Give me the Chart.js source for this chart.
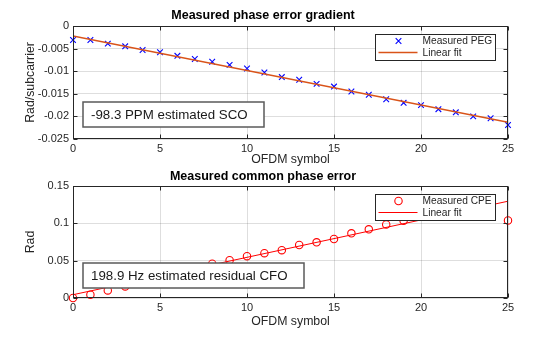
<!DOCTYPE html>
<html>
<head>
<meta charset="utf-8">
<script src="https://cdn.jsdelivr.net/npm/chart.js@4.4.1/dist/chart.umd.min.js"></script>
<style>
  body { margin: 0; background: #fff; }
  #wrap { position: relative; width: 560px; height: 337px; }
  canvas { position: absolute; left: 0; }
</style>
</head>
<body>
<div id="wrap">
  <canvas id="pegChart" width="560" height="168" style="top:0"></canvas>
  <canvas id="cpeChart" width="560" height="169" style="top:168px"></canvas>
</div>
<script>
// OFDM symbol index (x axis)
const symbols = [0, 1, 2, 3, 4, 5, 6, 7, 8, 9, 10, 11, 12, 13, 14, 15, 16, 17, 18, 19, 20, 21, 22, 23, 24, 25];

// top plot: phase error gradient (rad/subcarrier)
const pegValues = [-0.0031, -0.0031, -0.0039, -0.0045, -0.0053, -0.0058, -0.0066, -0.0073, -0.0079, -0.0086,
  -0.0094, -0.0103, -0.0113, -0.0119, -0.0128, -0.0134, -0.0145, -0.0152, -0.0162, -0.0170,
  -0.0175, -0.0184, -0.0191, -0.0200, -0.0204, -0.0219];
const pegFitX = [0, 25];
const pegFitY = [-0.0022, -0.0213];
const pegTicksY = [0, -0.005, -0.01, -0.015, -0.02, -0.025];
const pegNote = '-98.3 PPM estimated SCO';

// bottom plot: common phase error (rad)
const cpeValues = [0.0000, 0.0044, 0.0102, 0.0155, 0.0210, 0.0270, 0.0330, 0.0400, 0.0460, 0.0506,
  0.0560, 0.0600, 0.0640, 0.0710, 0.0746, 0.0790, 0.0866, 0.0920, 0.0985, 0.1034,
  0.1120, 0.1150, 0.1190, 0.1220, 0.1250, 0.1039];
const cpeFitX = [0, 25];
const cpeFitY = [0.0044, 0.1296];
const cpeTicksY = [0, 0.05, 0.1, 0.15];
const cpeNote = '198.9 Hz estimated residual CFO';

const xTicks = [0, 5, 10, 15, 20, 25];
const FONT = '"Liberation Sans", Arial, Helvetica, sans-serif';
const AX = '#262626';

const toPts = (xs, ys) => xs.map((x, i) => ({ x: x, y: ys[i] }));

function drawMarker(ctx, style, x, y, r, color) {
  ctx.strokeStyle = color;
  ctx.lineWidth = 1.1;
  ctx.beginPath();
  if (style === 'crossRot') {
    const d = r * Math.SQRT1_2;
    ctx.moveTo(x - d, y - d); ctx.lineTo(x + d, y + d);
    ctx.moveTo(x - d, y + d); ctx.lineTo(x + d, y - d);
  } else {
    ctx.arc(x, y, r, 0, Math.PI * 2);
  }
  ctx.stroke();
}

// matlab-like box, inward ticks, text note and legend inside the axes
const axesDecor = {
  id: 'axesDecor',
  afterDraw(chart, args, opts) {
    const { ctx, chartArea: a, scales } = chart;
    const L = Math.round(a.left) + 0.5, R = Math.round(a.right) - 0.5;
    const T = Math.round(a.top) + 0.5, B = Math.round(a.bottom) - 0.5;
    ctx.save();
    ctx.strokeStyle = AX;
    ctx.lineWidth = 1;
    ctx.strokeRect(L, T, R - L, B - T);
    ctx.beginPath();
    scales.x.ticks.forEach(t => {
      const px = Math.round(scales.x.getPixelForValue(t.value)) + 0.5;
      ctx.moveTo(px, B); ctx.lineTo(px, B - 4);
      ctx.moveTo(px, T); ctx.lineTo(px, T + 4);
    });
    scales.y.ticks.forEach(t => {
      const py = Math.round(scales.y.getPixelForValue(t.value)) + 0.5;
      ctx.moveTo(L, py); ctx.lineTo(L + 4, py);
      ctx.moveTo(R, py); ctx.lineTo(R - 4, py);
    });
    ctx.stroke();

    // annotation text box
    const nx = a.left + 10, nh = 25, ny = a.bottom - opts.noteBottom - nh;
    ctx.fillStyle = '#fff';
    ctx.fillRect(nx, ny, opts.noteWidth, nh);
    ctx.strokeStyle = '#5a5a5a';
    ctx.lineWidth = 1.5;
    ctx.strokeRect(nx, ny, opts.noteWidth, nh);
    ctx.fillStyle = '#1a1a1a';
    ctx.font = '13.3px ' + FONT;
    ctx.textBaseline = 'middle';
    ctx.textAlign = 'left';
    ctx.fillText(opts.note, nx + 8, ny + nh / 2 + 1);

    // legend
    const lw = 120, lh = 26, lx = Math.round(a.right - 13 - lw) + 0.5, ly = Math.round(a.top + 8) + 0.5;
    ctx.fillStyle = '#fff';
    ctx.fillRect(lx, ly, lw, lh);
    ctx.strokeStyle = AX;
    ctx.lineWidth = 1;
    ctx.strokeRect(lx, ly, lw, lh);
    ctx.font = '10.2px ' + FONT;
    opts.items.forEach((it, i) => {
      const ry = ly + 6.5 + i * 11.5;
      if (it.line) {
        ctx.strokeStyle = it.color;
        ctx.lineWidth = it.width;
        ctx.beginPath();
        ctx.moveTo(lx + 3, ry); ctx.lineTo(lx + 42, ry);
        ctx.stroke();
      } else {
        drawMarker(ctx, it.style, lx + 23, ry, it.r, it.color);
      }
      ctx.fillStyle = AX;
      ctx.fillText(it.label, lx + 47, ry + 0.5);
    });
    ctx.restore();
  }
};

function makeChart(id, o) {
  return new Chart(document.getElementById(id), {
    type: 'scatter',
    data: {
      datasets: [{
        label: o.markLabel,
        data: toPts(symbols, o.values),
        showLine: false,
        pointStyle: o.pointStyle,
        pointRadius: o.pointRadius,
        pointHoverRadius: o.pointRadius,
        borderColor: o.markColor,
        backgroundColor: 'rgba(0,0,0,0)',
        pointBorderWidth: 1.1,
        clip: false,
        order: 2
      }, {
        label: 'Linear fit',
        data: toPts(o.fitX, o.fitY),
        showLine: true,
        borderColor: o.fitColor,
        backgroundColor: o.fitColor,
        borderWidth: o.fitWidth,
        pointRadius: 0,
        order: 1
      }]
    },
    options: {
      responsive: false,
      animation: false,
      layout: { padding: { left: 18, right: 52, top: o.padTop, bottom: 0 } },
      plugins: {
        legend: { display: false },
        tooltip: { enabled: false },
        title: {
          display: true, text: o.title, color: '#000',
          font: { family: FONT, size: 12.5, weight: 'bold' },
          padding: { top: 0, bottom: o.titleGap }
        },
        axesDecor: {
          note: o.note, noteWidth: o.noteWidth, noteBottom: o.noteBottom,
          items: [
            { label: o.markLabel, style: o.pointStyle, r: o.pointRadius, color: o.markColor },
            { label: 'Linear fit', line: true, color: o.fitColor, width: o.fitWidth }
          ]
        }
      },
      scales: {
        x: {
          type: 'linear', min: 0, max: 25,
          afterBuildTicks: s => { s.ticks = xTicks.map(v => ({ value: v })); },
          afterFit: s => { s.height = o.xHeight; },
          grid: { color: 'rgba(0,0,0,0.13)', drawTicks: false },
          border: { display: false },
          ticks: { color: AX, font: { family: FONT, size: 11 }, padding: 3 },
          title: { display: true, text: 'OFDM symbol', color: AX,
            font: { family: FONT, size: 12.3 }, padding: { top: 0, bottom: o.xTitleGap } }
        },
        y: {
          min: o.yMin, max: o.yMax,
          afterBuildTicks: s => { s.ticks = o.yTicks.map(v => ({ value: v })); },
          afterFit: s => { s.width = 55; },
          grid: { color: 'rgba(0,0,0,0.13)', drawTicks: false },
          border: { display: false },
          ticks: { color: AX, font: { family: FONT, size: 11 }, padding: 4,
            callback: v => String(+v.toFixed(4)) },
          title: { display: true, text: o.yLabel, color: AX,
            font: { family: FONT, size: 12.3 }, padding: { top: 5, bottom: 0 } }
        }
      }
    },
    plugins: [axesDecor]
  });
}

makeChart('pegChart', {
  title: 'Measured phase error gradient', yLabel: 'Rad/subcarrier',
  values: pegValues, fitX: pegFitX, fitY: pegFitY, yTicks: pegTicksY,
  yMin: -0.025, yMax: 0,
  markLabel: 'Measured PEG', pointStyle: 'crossRot', pointRadius: 4, markColor: '#0000ff',
  fitColor: '#d95319', fitWidth: 1.5,
  note: pegNote, noteWidth: 181, noteBottom: 12,
  padTop: 8, titleGap: 3, xHeight: 29, xTitleGap: 1
});

makeChart('cpeChart', {
  title: 'Measured common phase error', yLabel: 'Rad',
  values: cpeValues, fitX: cpeFitX, fitY: cpeFitY, yTicks: cpeTicksY,
  yMin: 0, yMax: 0.15,
  markLabel: 'Measured CPE', pointStyle: 'circle', pointRadius: 3.7, markColor: '#ff0000',
  fitColor: '#ff0000', fitWidth: 1,
  note: cpeNote, noteWidth: 221, noteBottom: 10,
  padTop: 1, titleGap: 2, xHeight: 39, xTitleGap: 8
});
</script>
</body>
</html>
